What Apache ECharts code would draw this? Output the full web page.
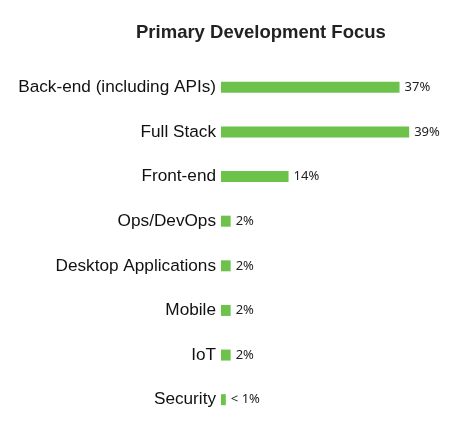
<!DOCTYPE html>
<html>
<head>
<meta charset="utf-8">
<script src="https://cdn.jsdelivr.net/npm/echarts@6/dist/echarts.min.js"></script>
<style>
	html, body { margin: 0; padding: 0; background: #fff; }
	#chart { width: 464px; height: 434px; }
</style>
</head>
<body>
<div id="chart"></div>
<script>
// Datos del gráfico (de arriba hacia abajo)
const categorias = [
	'Back-end (including APIs)',
	'Full Stack',
	'Front-end',
	'Ops/DevOps',
	'Desktop Applications',
	'Mobile',
	'IoT',
	'Security',
]
const valores = [37, 39, 14, 2, 2, 2, 2, 1]
const etiquetas = ['37%', '39%', '14%', '2%', '2%', '2%', '2%', '< 1%']

const chart = echarts.init(document.getElementById('chart'))

chart.setOption({
	animation: false,
	title: {
		text: 'Primary Development Focus',
		left: 131,
		top: 18,
		textStyle: {
			fontFamily: 'Liberation Sans, Arial, sans-serif',
			fontSize: 18.5,
			fontWeight: 'bold',
			color: '#222',
		},
	},
	grid: {
		left: 221,
		top: 65,
		width: 193,
		height: 357,
	},
	xAxis: {
		type: 'value',
		min: 0,
		max: 40,
		show: false,
	},
	yAxis: {
		type: 'category',
		inverse: true,
		data: categorias,
		axisLine: { show: false },
		axisTick: { show: false },
		axisLabel: {
			margin: 5,
			fontFamily: 'Liberation Sans, Arial, sans-serif',
			fontSize: 17.2,
			color: '#111',
		},
	},
	series: [
		{
			type: 'bar',
			data: valores,
			barWidth: 11,
			itemStyle: { color: '#6cc24a' },
			label: {
				show: true,
				position: 'right',
				distance: 5,
				fontFamily: 'Noto Sans, sans-serif',
				fontSize: 13,
				color: '#222',
				formatter: (p) => etiquetas[p.dataIndex],
			},
		},
	],
})
</script>
</body>
</html>
